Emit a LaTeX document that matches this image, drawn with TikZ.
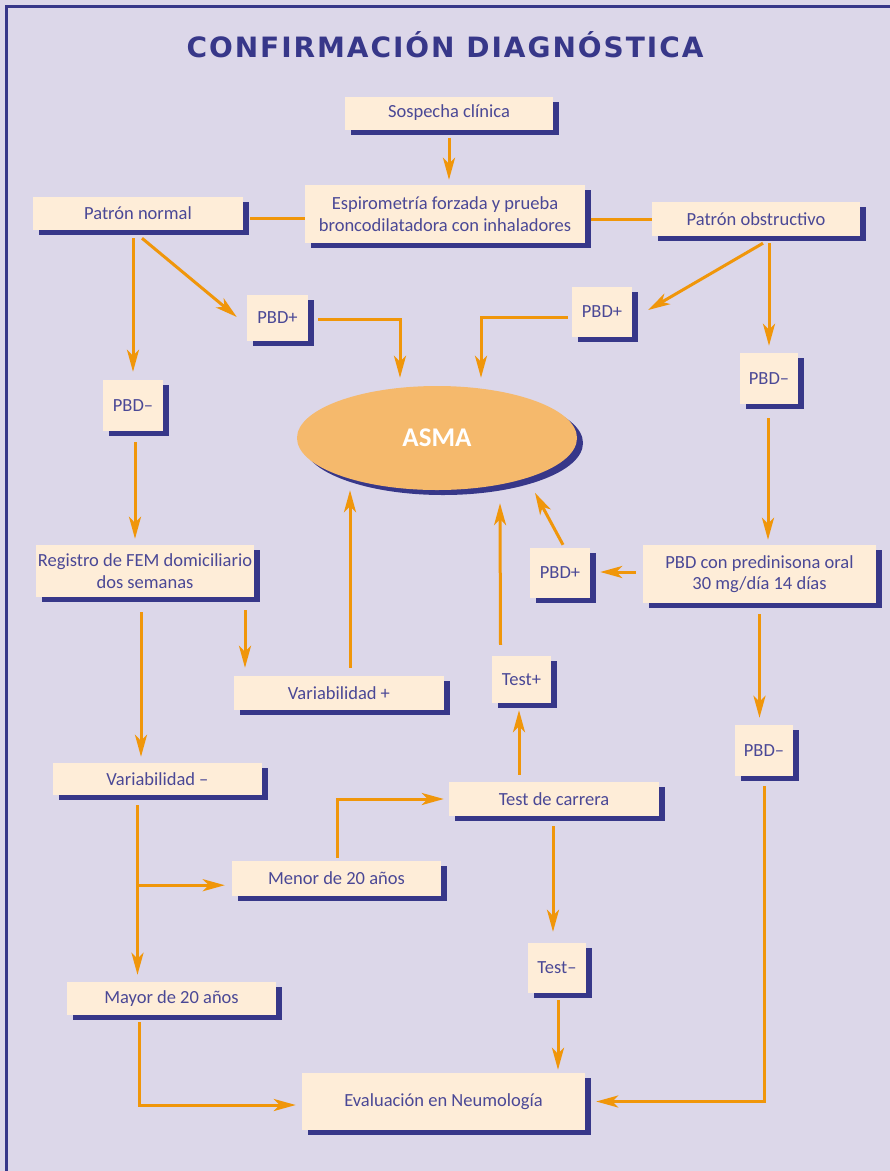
\documentclass[tikz,border=0pt]{standalone}
\usepackage{fontspec}
\setmainfont{Carlito}
\newfontfamily\titlefont{DejaVu Sans}
\usetikzlibrary{calc,arrows.meta,shadows,shapes.geometric}
\definecolor{bgc}{HTML}{DCD7E9}
\definecolor{boxc}{HTML}{FEEDD8}
\definecolor{shc}{HTML}{373789}
\definecolor{txc}{HTML}{4A4896}
\definecolor{arc}{HTML}{F0960A}
\definecolor{elc}{HTML}{F5B96C}
\begin{document}
\begin{tikzpicture}[x=1pt,y=-1pt,
  box/.style={rectangle,fill=boxc,inner sep=2pt,align=center,text=txc,
    font=\fontsize{18.5}{21.5}\selectfont,
    drop shadow={shadow xshift=6pt,shadow yshift=-5pt,fill=shc,opacity=1}},
  conn/.style={draw=arc,line width=3pt},
  arr/.style={conn,-{Stealth[length=22pt,width=12pt,inset=6pt]}},
]
\fill[bgc] (0,0) rectangle (890,1171);
\useasboundingbox (0,0) rectangle (890,1171);
\draw[shc,line width=3pt] (6,1171) -- (6,6) -- (890,6);

\node[text=shc,font={\titlefont\bfseries\fontsize{28}{32}\selectfont\addfontfeatures{LetterSpace=7}}] (title) at (445,45) {CONFIRMACIÓN DIAGNÓSTICA};

\node[box,minimum width=208,minimum height=33] (sosp) at (449,113) {Sospecha clínica};
\node[box,minimum width=280,minimum height=58] (espi) at (445,214) {Espirometría forzada y prueba\\broncodilatadora con inhaladores};
\node[box,minimum width=210,minimum height=33] (pn) at (138,213.5) {Patrón normal};
\node[box,minimum width=208,minimum height=34] (po) at (756,219) {Patrón obstructivo};
\node[box,minimum width=61,minimum height=46] (pbdp1) at (277.5,318) {PBD+};
\node[box,minimum width=60,minimum height=50] (pbdp2) at (602,312) {PBD+};
\node[box,minimum width=60,minimum height=51] (pbdm1) at (133,405.5) {PBD–};
\node[box,minimum width=58,minimum height=51] (pbdm2) at (769,378.5) {PBD–};
\node[ellipse,fill=elc,minimum width=280,minimum height=104,inner sep=0pt,
  text=white,font=\bfseries\fontsize{27}{30}\selectfont,
  drop shadow={shadow xshift=6pt,shadow yshift=-5pt,fill=shc,opacity=1}] (asma) at (437,438) {ASMA};
\node[box,minimum width=216,minimum height=52] (reg) at (145,571) {Registro de FEM domiciliario\\dos semanas};
\node[box,minimum width=60,minimum height=50] (pbdp3) at (560,573) {PBD+};
\node[box,minimum width=233,minimum height=58] (pred) at (759.5,574) {PBD con predinisona oral\\30 mg/día 14 días};
\node[box,minimum width=210,minimum height=34] (varp) at (339,693) {Variabilidad +};
\node[box,minimum width=59,minimum height=47] (testp) at (521.5,679.5) {Test+};
\node[box,minimum width=58,minimum height=51] (pbdm3) at (764,750.5) {PBD–};
\node[box,minimum width=209,minimum height=32] (varm) at (157.5,779) {Variabilidad –};
\node[box,minimum width=210,minimum height=34] (tc) at (554,799) {Test de carrera};
\node[box,minimum width=209,minimum height=35] (menor) at (336.5,878.5) {Menor de 20 años};
\node[box,minimum width=58,minimum height=50] (testm) at (557,968) {Test–};
\node[box,minimum width=209,minimum height=33] (mayor) at (171.5,998.5) {Mayor de 20 años};
\node[box,minimum width=283,minimum height=57] (eval) at (443.5,1101.5) {Evaluación en Neumología};

% helper coordinates (offsets from node anchors)
\coordinate (c1) at ($(pn.east)+(0,4.5)$);
\coordinate (c2) at ($(pbdm2.south)+(-1,0)$);
\coordinate (c3) at ($(pred.west)+(0,-2)$);
\coordinate (c4) at ($(pbdm1.south)+(2,0)$);
\coordinate (c5) at ($(reg.south)+(100,13)$);
\coordinate (c6) at ($(reg.south)+(-4,15)$);
\coordinate (c7) at ($(varp.north)+(11,-8)$);
\coordinate (c8) at ($(tc.north)+(-35,-7)$);
\coordinate (c9) at ($(tc.south)+(-1,0)$);
\coordinate (c10) at ($(testm.south)+(1,0)$);
\coordinate (c11) at ($(varm.south)+(-20,10)$);
\coordinate (br) at ($(varm.south)+(-20,90)$);

% connectors
\draw[arr,shorten <=8pt,shorten >=5pt] (sosp.south) -- (sosp.south |- espi.north);
\draw[conn,shorten <=7pt] (c1) -- (c1 -| espi.west);
\draw[conn,shorten >=6pt] (po.west) -- (po.west -| espi.east);
\draw[arr,shorten <=8pt,shorten >=8pt] (pn.south -| pbdm1.north) -- (pbdm1.north);
\draw[arr] ($(pn.south)+(4,8)$) -- ($(pbdp1.west)+(-10,-1)$);
\draw[arr] ($(pbdp1.east)+(10,1)$) -| ($(asma.north)+(-37,-8)$);
\draw[arr] ($(pbdp2.west)+(-4,5)$) -| ($(asma.north)+(44,-8)$);
\draw[arr] ($(po.south)+(7,7)$) -- ($(pbdp2.east)+(16,-2)$);
\draw[arr,shorten <=7pt,shorten >=7pt] (po.south -| pbdm2.north) -- (pbdm2.north);
\draw[arr,shorten <=14pt,shorten >=5pt] (c2) -- (c2 |- pred.north);
\draw[arr,shorten <=7pt,shorten >=10pt] (c3) -- (c3 -| pbdp3.east);
\draw[arr] ($(pbdp3.north)+(3,-3)$) -- ($(pbdp3.north)+(-25,-55)$);
\draw[arr,shorten <=11pt,shorten >=7pt] (pred.south) -- (pred.south |- pbdm3.north);
\draw[arr,shorten >=11pt] ($(pbdm3.south)+(0,10)$) |- (eval.east);
\draw[arr,shorten <=11pt,shorten >=6pt] (c4) -- (c4 |- reg.north);
\draw[arr,shorten >=8pt] (c5) -- (c5 |- varp.north);
\draw[arr,shorten >=6pt] (c6) -- (c6 |- varm.north);
\draw[arr] (c7) -- (c7 |- asma.south);
\draw[arr] ($(testp.north)+(-21,-11)$) -- ($(asma.south)+(63,13)$);
\draw[arr,shorten >=7pt] (c8) -- (c8 |- testp.south);
\draw[arr,shorten <=10pt,shorten >=11pt] (c9) -- (c9 |- testm.north);
\draw[arr,shorten <=7pt,shorten >=3pt] (c10) -- (c10 |- eval.north);
\draw[arr,shorten >=7pt] (c11) -- (c11 |- mayor.north);
\draw[arr,shorten >=7pt] (br) -- (br -| menor.west);
\draw[arr,shorten >=5pt] ($(menor.north)+(1,-3)$) |- (tc.west);
\draw[arr,shorten >=6pt] ($(mayor.south)+(-32,7)$) |- ($(eval.west)+(0,3.5)$);
\end{tikzpicture}
\end{document}
